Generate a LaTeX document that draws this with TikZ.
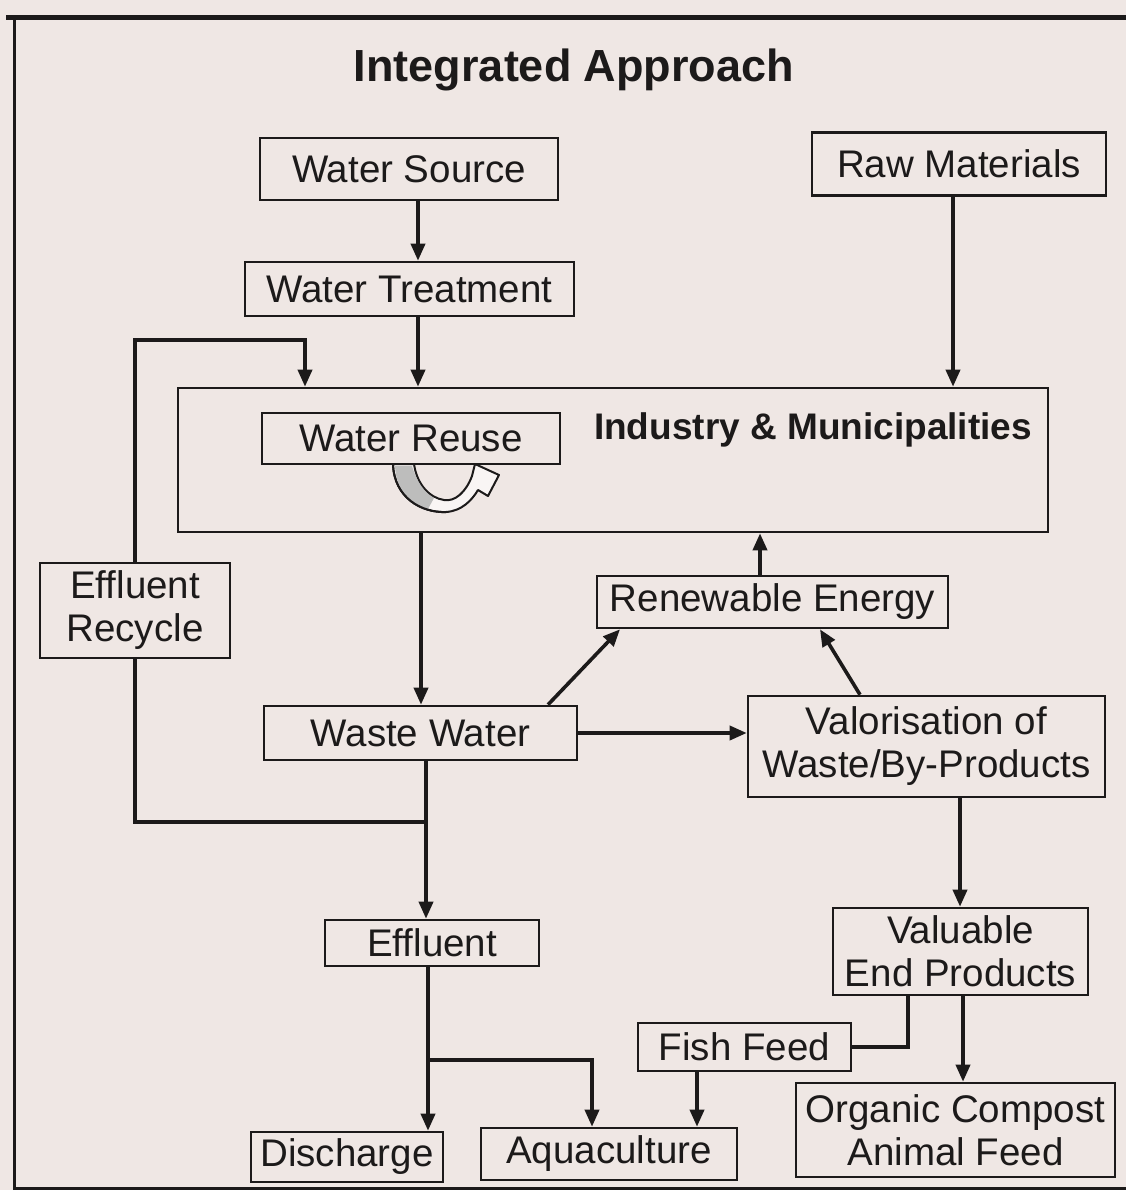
\documentclass[tikz,border=0pt]{standalone}
\usepackage{fontspec}
\setmainfont{Liberation Sans}
\usetikzlibrary{arrows.meta,calc}
\definecolor{paper}{RGB}{239,231,228}
\definecolor{ink}{RGB}{28,26,26}
\begin{document}
\begin{tikzpicture}[x=1pt,y=-1pt,
 box/.style={draw=ink,line width=2.6pt,inner sep=0pt,align=center,text=ink,font=\fontsize{38.5}{43}\selectfont},
 conn/.style={draw=ink,line width=3.6pt},
 arr/.style={conn,-{Triangle[length=17pt,width=14pt]}},
 bold/.style={text=ink,inner sep=0pt},
]
\fill[paper] (0,0) rectangle (1126,1190);
\useasboundingbox (0,0) rectangle (1126,1190);
% frame
\draw[ink,line width=5pt] (6,18) -- (1126,18);
\draw[ink,line width=3pt] (14,16) -- (14,1190);
\draw[ink,line width=3pt] (14,1188) -- (1126,1188);

% nodes
\node[bold,font=\bfseries\fontsize{45}{50}\selectfont] (title) at (574,70) {Integrated Approach};
\node[box,minimum width=298pt,minimum height=62pt] (ws) at (409,169) {Water Source};
\node[box,minimum width=294pt,minimum height=63pt] (rm) at (959,164) {Raw Materials};
\node[box,minimum width=329pt,minimum height=54pt] (wt) at (409.5,289) {Water Treatment};
\node[box,minimum width=870pt,minimum height=144pt] (ind) at (613,460) {};
\node[box,minimum width=298pt,minimum height=51pt] (wr) at (411,438.5) {Water Reuse};
\node[bold,font=\bfseries\fontsize{37}{40}\selectfont] (indt) at (813,430) {Industry \& Municipalities};
\node[box,minimum width=190pt,minimum height=95pt] (er) at (135,610.5) {Effluent\\Recycle};
\node[box,minimum width=351pt,minimum height=52pt] (re) at (772.5,602) {Renewable Energy};
\node[box,minimum width=313pt,minimum height=54pt] (ww) at (420.5,733) {Waste Water};
\node[box,minimum width=357pt,minimum height=101pt] (val) at (926.5,746.5) {Valorisation of\\Waste/By-Products};
\node[box,minimum width=214pt,minimum height=46pt] (eff) at (432,943) {Effluent};
\node[box,minimum width=255pt,minimum height=87pt] (vep) at (960.5,951.5) {Valuable\\End Products};
\node[box,minimum width=213pt,minimum height=48pt] (ff) at (744.5,1047) {Fish Feed};
\node[box,minimum width=192pt,minimum height=50pt] (dis) at (347,1157) {Discharge};
\node[box,minimum width=256pt,minimum height=52pt] (aq) at (609,1154) {Aquaculture};
\node[box,minimum width=319pt,minimum height=94pt] (oc) at (955.5,1130) {Organic Compost\\Animal Feed};

% reuse curl arrow
\filldraw[fill=paper!40!white,draw=ink,line width=2pt,line join=round]
  (393,464) .. controls (394,498) and (422,513) .. (446,512)
  .. controls (462,511) and (472,500) .. (478,490)
  -- (488,496) -- (499,475) -- (475,464) -- (472,476)
  .. controls (466,492) and (455,502) .. (444,500)
  .. controls (430,498) and (417,485) .. (414,464) -- cycle;
\fill[ink!35,opacity=0.8]
  (395,466) .. controls (396,490) and (410,504) .. (428,509)
  -- (434,498) .. controls (424,492) and (417,482) .. (412,466) -- cycle;
\draw[ink,line width=2pt] (393,464) .. controls (394,498) and (422,513) .. (446,512);

% coordinates for connector columns/rows
\coordinate (xA) at (418,0);
\coordinate (xR) at (953,0);
\coordinate (xW) at (421,0);
\coordinate (xE) at (426,0);
\coordinate (j1) at (426,822);
\coordinate (yT) at (0,340);
\coordinate (xF) at (305,0);
\coordinate (d1) at (548,0);
\coordinate (d2) at (620,0);
\coordinate (d3) at (860,0);
\coordinate (d4) at (820,0);
\coordinate (xRE) at (760,0);
\coordinate (xV) at (960,0);
\coordinate (xVf) at (908,0);
\coordinate (xOC) at (963,0);
\coordinate (xFF) at (697,0);
\coordinate (xD) at (428,0);
\coordinate (j2) at (428,1060);
\coordinate (xAq) at (592,0);

% connectors
\draw[arr] (xA |- ws.south) -- (xA |- wt.north);
\draw[arr] (xA |- wt.south) -- (xA |- ind.north);
\draw[arr] (xR |- rm.south) -- (xR |- ind.north);
\draw[arr] (xW |- ind.south) -- (xW |- ww.north);
\draw[arr] (xE |- ww.south) -- (xE |- eff.north);
\draw[conn] (j1) -- (j1 -| er.south) -- (er.south);
\draw[arr] (er.north) -- (er.north |- yT) -| (xF |- ind.north);
\draw[arr] (ww.east) -- (ww.east -| val.west);
\draw[arr] (d1 |- ww.north) -- (d2 |- re.south);
\draw[arr] (d3 |- val.north) -- (d4 |- re.south);
\draw[arr] (xRE |- re.north) -- (xRE |- ind.south);
\draw[arr] (xV |- val.south) -- (xV |- vep.north);
\draw[conn] (xVf |- vep.south) |- (ff.east);
\draw[arr] (xOC |- vep.south) -- (xOC |- oc.north);
\draw[arr] (xFF |- ff.south) -- (xFF |- aq.north);
\draw[arr] (xD |- eff.south) -- (xD |- dis.north);
\draw[arr] (j2) -| (xAq |- aq.north);
\end{tikzpicture}
\end{document}
